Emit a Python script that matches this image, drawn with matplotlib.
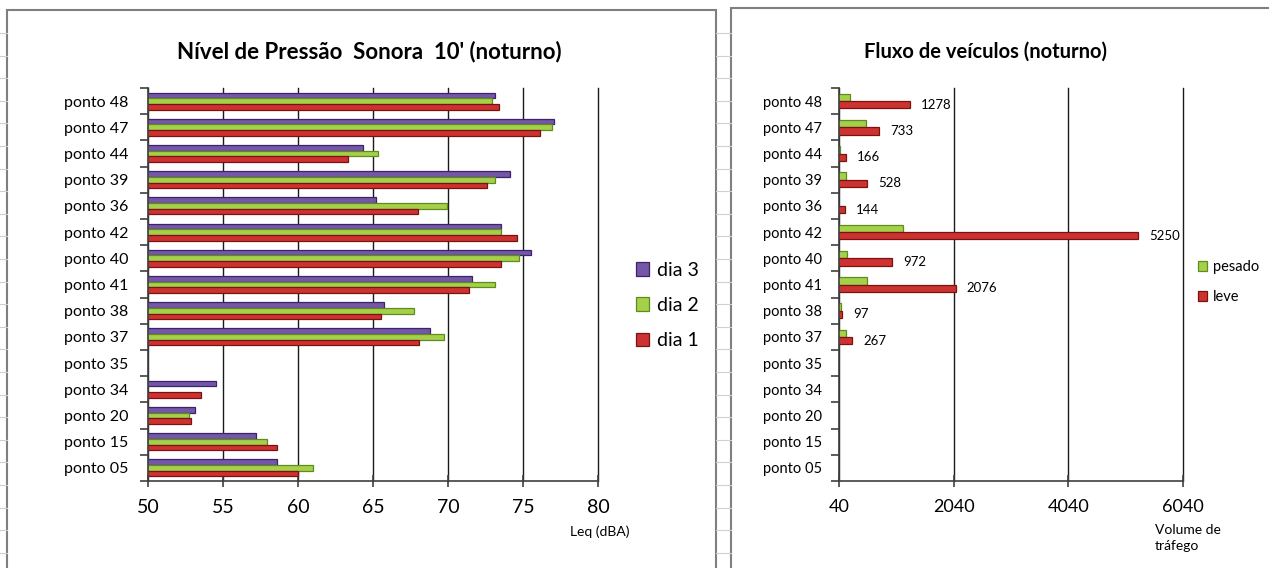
import matplotlib.pyplot as plt
import numpy as np
from matplotlib.lines import Line2D
from matplotlib.patches import Rectangle

plt.rcParams['font.family'] = ['Lato', 'DejaVu Sans']

W, H = 1269, 568

pontos = ["ponto 48", "ponto 47", "ponto 44", "ponto 39", "ponto 36", "ponto 42", "ponto 40",
          "ponto 41", "ponto 38", "ponto 37", "ponto 35", "ponto 34", "ponto 20", "ponto 15", "ponto 05"]

nan = np.nan
# Leq (dBA), noturno
dia3 = [73.1, 77.05, 64.35, 74.1, 65.2, 73.55, 75.5, 71.6, 65.7, 68.8, nan, 54.5, 53.15, 57.2, 58.6]
dia2 = [72.9, 76.9, 65.3, 73.1, 69.9, 73.55, 74.7, 73.1, 67.7, 69.7, nan, nan, 52.7, 57.9, 61.0]
dia1 = [73.4, 76.1, 63.3, 72.6, 68.0, 74.6, 73.5, 71.4, 65.5, 68.1, nan, 53.55, 52.85, 58.6, 60.0]

# volume de trafego
pesado = [227, 514, 63, 169, nan, 1157, 186, 531, 75, 169, nan, nan, nan, nan, nan]
leve = [1278, 733, 166, 528, 144, 5250, 972, 2076, 97, 267, nan, nan, nan, nan, nan]

leq_ticks = [50, 55, 60, 65, 70, 75, 80]
vol_ticks = [40, 2040, 4040, 6040]

purple = ("#7556a8", "#3b2468")
green = ("#a4d04a", "#5f8c1f")
red = ("#cc3330", "#7a1212")


def px_axes(fig, x0, y0, x1, y1):
    return fig.add_axes([x0 / W, 1 - y1 / H, (x1 - x0) / W, (y1 - y0) / H])


def style_axes(ax, n):
    ax.set_ylim(n - 0.5, -0.5)
    for s in ["top", "right"]:
        ax.spines[s].set_visible(False)
    for s in ["left", "bottom"]:
        ax.spines[s].set_color("#404040")
        ax.spines[s].set_linewidth(1.2)
    ax.set_yticks(np.arange(n))
    ax.set_yticks(np.arange(n + 1) - 0.5, minor=True)
    ax.tick_params(axis="y", which="major", length=0)
    ax.tick_params(axis="y", which="minor", length=6, width=1.2, color="#404040", direction="out")
    ax.tick_params(axis="x", which="major", length=8, width=1.2, color="#404040", direction="inout")
    ax.grid(axis="x", color="#1a1a1a", lw=1.0)
    for gl in ax.get_xgridlines():
        gl.set_clip_on(False)
    ax.set_axisbelow(True)


fig = plt.figure(figsize=(W / 100, H / 100), dpi=100)
fig.patch.set_facecolor("white")

# spreadsheet background bits
for yy in np.arange(33, 568, 22.6):
    fig.add_artist(Line2D([0, 7 / W], [1 - yy / H] * 2, color="#d0d0d0", lw=0.8))
    fig.add_artist(Line2D([716 / W, 731 / W], [1 - yy / H] * 2, color="#d0d0d0", lw=0.8))
# chart frames
fig.add_artist(Rectangle((7 / W, -0.1), (716 - 7) / W, 1.1 - 10 / H, fill=False, ec="#7f7f7f", lw=1.5))
fig.add_artist(Rectangle((731 / W, -0.1), 0.5, 1.1 - 8 / H, fill=False, ec="#7f7f7f", lw=1.5))

n = len(pontos)
y = np.arange(n)

# left chart
ax1 = px_axes(fig, 148, 88, 598, 481)
h = 0.215
b3 = ax1.barh(y - h, dia3, height=h, color=purple[0], edgecolor=purple[1], lw=0.9, label="dia 3")
b2 = ax1.barh(y, dia2, height=h, color=green[0], edgecolor=green[1], lw=0.9, label="dia 2")
b1 = ax1.barh(y + h, dia1, height=h, color=red[0], edgecolor=red[1], lw=0.9, label="dia 1")
ax1.set_xlim(leq_ticks[0], leq_ticks[-1])
ax1.set_xticks(leq_ticks)
style_axes(ax1, n)
ax1.set_yticklabels(pontos, fontsize=11.5)
ax1.tick_params(axis="y", pad=14)
ax1.tick_params(axis="x", labelsize=14, pad=9)
fig.text(369 / W, 1 - 52 / H, "Nível de Pressão  Sonora  10' (noturno)", ha="center", va="center",
         fontsize=16, fontweight="bold")
fig.text(570 / W, 1 - 532 / H, "Leq (dBA)", ha="left", va="center", fontsize=10)
ax1.legend(handles=[b3, b2, b1], loc="upper left", bbox_to_anchor=(618 / W, 1 - 244 / H),
           bbox_transform=fig.transFigure, frameon=False, fontsize=14, handlelength=0.7,
           handleheight=0.7, handletextpad=0.4, labelspacing=0.95)

# right chart
ax2 = px_axes(fig, 839, 88, 1183, 481)
h2 = 0.28
bp = ax2.barh(y - h2 / 2, pesado, height=h2, color=green[0], edgecolor=green[1], lw=0.9, label="pesado")
bl = ax2.barh(y + h2 / 2, leve, height=h2, color=red[0], edgecolor=red[1], lw=0.9, label="leve")
ax2.bar_label(bl, labels=["" if np.isnan(v) else f"{v:.0f}" for v in leve], padding=8, fontsize=9.5)
ax2.set_xlim(vol_ticks[0], vol_ticks[-1])
ax2.set_xticks(vol_ticks)
style_axes(ax2, n)
ax2.set_yticklabels(pontos, fontsize=10.5)
ax2.tick_params(axis="y", pad=12)
ax2.tick_params(axis="x", labelsize=13, pad=9)
fig.text(986 / W, 1 - 52 / H, "Fluxo de veículos (noturno)", ha="center", va="center",
         fontsize=14.5, fontweight="bold")
fig.text(1155 / W, 1 - 538 / H, "Volume de\ntráfego", ha="left", va="center", fontsize=10,
         linespacing=1.4)
ax2.legend(handles=[bp, bl], loc="upper left", bbox_to_anchor=(1185 / W, 1 - 247 / H),
           bbox_transform=fig.transFigure, frameon=False, fontsize=10.5, handlelength=0.6,
           handleheight=0.7, handletextpad=0.4, labelspacing=1.1)

fig.savefig("out.png", dpi=100)
